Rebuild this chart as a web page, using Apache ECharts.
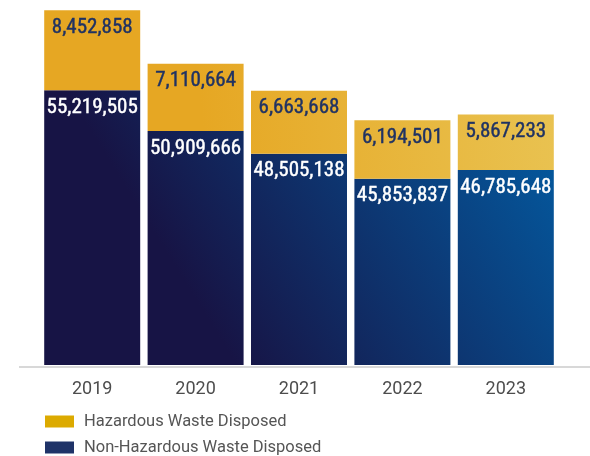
<!DOCTYPE html>
<html>
<head>
<meta charset="utf-8">
<script src="https://cdn.jsdelivr.net/npm/echarts@6/dist/echarts.min.js"></script>
<style>
html, body { margin: 0; padding: 0; background: #fff; }
#chart { width: 590px; height: 456px; }
</style>
</head>
<body>
<div id="chart"></div>
<script>
// values
var years = ['2019', '2020', '2021', '2022', '2023'];
var nonHazardous = [55219505, 50909666, 48505138, 45853837, 46785648];
var hazardous = [8452858, 7110664, 6663668, 6194501, 5867233];
var seriesNames = ['Non-Hazardous Waste Disposed', 'Hazardous Waste Disposed'];

var myChart = echarts.init(document.getElementById('chart'));

function fmt(p) {
  return p.value.toLocaleString('en-US');
}

var labelFont = "'Liberation Sans Narrow', 'Roboto Condensed', 'Noto Sans', sans-serif";

myChart.setOption({
  animation: false,
  grid: { left: 40.5, right: 32.5, top: 10, bottom: 91 },
  legend: {
    orient: 'vertical',
    left: 45,
    top: 413,
    padding: 0,
    itemWidth: 29,
    itemHeight: 12,
    itemGap: 9,
    icon: 'rect',
    data: [
      { name: 'Hazardous Waste Disposed', itemStyle: { color: '#dcaa00' } },
      { name: 'Non-Hazardous Waste Disposed', itemStyle: { color: '#1f3368' } }
    ],
    textStyle: { fontFamily: 'Roboto', fontSize: 16.5, color: '#555555', lineHeight: 17, padding: [0, 0, 0, 5] }
  },
  xAxis: {
    type: 'category',
    data: years,
    axisLine: { show: false },
    axisTick: { show: false },
    axisLabel: { fontFamily: 'Roboto', fontSize: 18, color: '#4d4d4d', margin: 15 }
  },
  yAxis: {
    type: 'value',
    min: 26150000,
    max: 63700000,
    show: false,
    splitLine: { show: false }
  },
  graphic: [{
    type: 'line',
    shape: { x1: 19, y1: 367, x2: 590, y2: 367 },
    style: { stroke: '#d8d8d8', lineWidth: 2 }
  }],
  series: [{
    name: seriesNames[0],
    type: 'bar',
    stack: 'total',
    barWidth: 96,
    data: nonHazardous,
    itemStyle: {
      color: new echarts.graphic.LinearGradient(240, 370, 560, 170, [
        { offset: 0, color: '#171445' },
        { offset: 1, color: '#04579c' }
      ], true)
    },
    label: {
      show: true,
      position: 'insideTop',
      distance: 7,
      formatter: fmt,
      color: '#ffffff',
      textBorderColor: '#ffffff',
      textBorderWidth: 0.4,
      fontFamily: labelFont,
      fontSize: 21
    }
  }, {
    name: seriesNames[1],
    type: 'bar',
    stack: 'total',
    barWidth: 96,
    data: hazardous,
    itemStyle: {
      color: new echarts.graphic.LinearGradient(200, 100, 560, 60, [
        { offset: 0, color: '#e6a723' },
        { offset: 1, color: '#e9c352' }
      ], true)
    },
    label: {
      show: true,
      position: 'insideTop',
      distance: 7,
      formatter: fmt,
      color: '#1f3263',
      textBorderColor: '#1f3263',
      textBorderWidth: 0.4,
      fontFamily: labelFont,
      fontSize: 21
    }
  }]
});
</script>
</body>
</html>
